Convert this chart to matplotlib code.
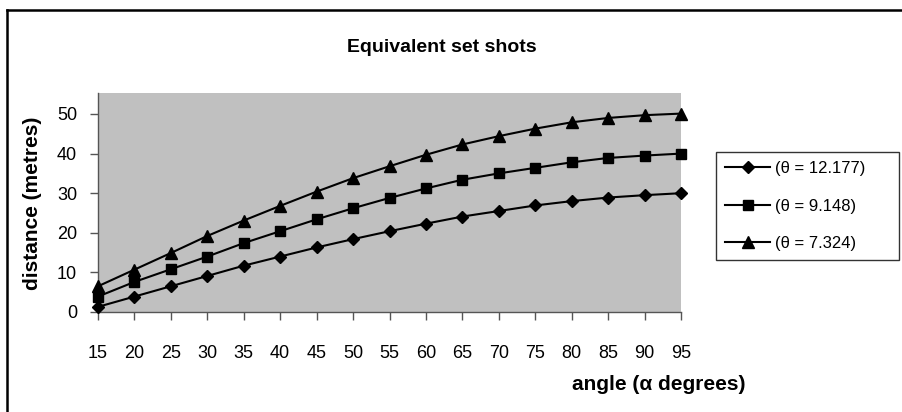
import matplotlib
matplotlib.use("Agg")
import matplotlib.pyplot as plt
from matplotlib.lines import Line2D

plt.rcParams['font.family'] = ['Liberation Sans', 'DejaVu Sans']

angles = [15, 20, 25, 30, 35, 40, 45, 50, 55, 60, 65, 70, 75, 80, 85, 90, 95]
dist_12177 = [1.3, 3.9, 6.5, 9.1, 11.7, 14.0, 16.3, 18.4, 20.4, 22.3, 24.1, 25.5, 26.9, 28.0, 28.9, 29.5, 30.0]
dist_9148 = [3.9, 7.6, 10.8, 14.0, 17.4, 20.4, 23.4, 26.2, 28.8, 31.2, 33.4, 35.0, 36.4, 37.8, 38.9, 39.5, 40.0]
dist_7324 = [6.5, 10.7, 14.9, 19.2, 23.1, 26.8, 30.4, 33.8, 36.8, 39.7, 42.3, 44.4, 46.3, 47.9, 49.0, 49.7, 50.1]
labels = ['(θ = 12.177)', '(θ = 9.148)', '(θ = 7.324)']
x_ticks = list(range(15, 96, 5))
y_ticks = [0, 10, 20, 30, 40, 50]

W, H = 902, 412
fig = plt.figure(figsize=(W / 100, H / 100), dpi=100)
fig.patch.set_facecolor('white')

# outer chart border (cropped on right and bottom)
fig.add_artist(Line2D([7 / W, 1.0], [1 - 10 / H, 1 - 10 / H], color='black', lw=1.8, transform=fig.transFigure))
fig.add_artist(Line2D([7 / W, 7 / W], [0, 1 - 10 / H], color='black', lw=1.8, transform=fig.transFigure))

ax = fig.add_axes([98 / W, 1 - 312 / H, (681 - 98) / W, (312 - 93) / H])
ax.set_facecolor('#C0C0C0')

series = [(dist_12177, 'D', 6), (dist_9148, 's', 7), (dist_7324, '^', 8)]
handles = []
for (vals, mk, ms), lab in zip(series, labels):
    h, = ax.plot(angles, vals, color='black', lw=1.5, marker=mk, markersize=ms,
                 markerfacecolor='black', markeredgecolor='black', label=lab, clip_on=False, zorder=3)
    handles.append(h)

ax.set_xlim(15, 95)
ax.set_ylim(0, 55.3)
ax.set_xticks(x_ticks)
ax.set_xticklabels([str(v) for v in x_ticks])
ax.set_yticks(y_ticks)
ax.tick_params(axis='both', direction='out', length=6, width=1, color='#555555', labelsize=13)
ax.tick_params(axis='y', pad=9)
ax.tick_params(axis='x', pad=18)
for s in ['top', 'right']:
    ax.spines[s].set_visible(False)
for s in ['left', 'bottom']:
    ax.spines[s].set_color('#555555')
    ax.spines[s].set_linewidth(1)

fig.text(442 / W, 1 - 47 / H, 'Equivalent set shots', ha='center', va='center', fontsize=14, fontweight='bold')
fig.text(33 / W, 1 - 203 / H, 'distance (metres)', ha='center', va='center', rotation=90, fontsize=15, fontweight='bold')
fig.text(746 / W, 1 - 385 / H, 'angle (α degrees)', ha='right', va='center', fontsize=15, fontweight='bold')

leg = fig.legend(handles=handles, labels=labels, loc='upper left', mode='expand',
                 bbox_to_anchor=(716 / W, 1 - 256 / H, 183 / W, 104 / H), bbox_transform=fig.transFigure,
                 frameon=True, fancybox=False, edgecolor='black', fontsize=12,
                 handlelength=2.7, handletextpad=0.3, labelspacing=1.35, borderpad=0.55,
                 borderaxespad=0)
leg.get_frame().set_linewidth(1)

fig.savefig('out.png', dpi=100, facecolor='white')
